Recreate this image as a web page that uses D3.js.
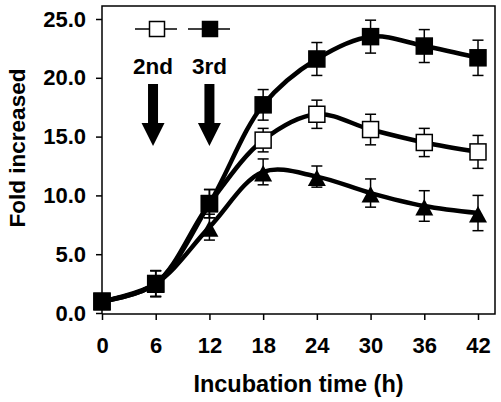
<!DOCTYPE html>
<html>
<head>
<meta charset="utf-8">
<script src="https://cdn.jsdelivr.net/npm/d3@7"></script>
<style>
  html, body { margin: 0; padding: 0; background: #fff; }
  svg { display: block; font-family: "Liberation Sans", Arial, Helvetica, sans-serif; font-weight: bold; }
</style>
</head>
<body>
<svg id="chart" width="501" height="402"></svg>
<script>
// ---- data ----
const times = [0, 6, 12, 18, 24, 30, 36, 42];
const xTickLabels = ["0", "6", "12", "18", "24", "30", "36", "42"];
const yTickValues = [0, 5, 10, 15, 20, 25];
const openValues   = [1.0, 2.5, 9.3, 14.7, 16.9, 15.6, 14.5, 13.7];
const openErrors   = [0.3, 1.1, 1.2, 1.0, 1.2, 1.3, 1.2, 1.4];
const filledValues = [1.0, 2.5, 9.3, 17.7, 21.6, 23.5, 22.7, 21.7];
const filledErrors = [0.3, 1.1, 1.2, 1.3, 1.4, 1.4, 1.4, 1.5];
const triValues    = [1.0, 2.5, 7.3, 12.0, 11.6, 10.2, 9.1, 8.5];
const triErrors    = [0.3, 1.1, 1.1, 1.1, 0.9, 1.2, 1.3, 1.5];
const arrowLabels = ["2nd", "3rd"];
const arrowTimes = [5.7, 12];
const xTitle = "Incubation time (h)";
const yTitle = "Fold increased";

// ---- layout ----
const svg = d3.select("#chart");
const x = d3.scaleLinear().domain([0, 42]).range([102, 478]);
const y = d3.scaleLinear().domain([0, 25]).range([313, 19]);
const frameLeft = 102, frameRight = 495, frameTop = 6, frameBottom = 314;

// frame
svg.append("path")
  .attr("d", `M${frameLeft},${frameBottom}V${frameTop}H${frameRight}V${frameBottom}H${frameLeft}`)
  .attr("fill", "none").attr("stroke", "#000").attr("stroke-width", 1.5);

// y axis
const yAxis = svg.append("g").attr("transform", `translate(${frameLeft},0)`)
  .call(d3.axisLeft(y).tickValues(yTickValues).tickFormat(d3.format(".1f")).tickSize(6).tickPadding(10));
yAxis.select(".domain").remove();
yAxis.selectAll("line").attr("stroke-width", 1.5);
yAxis.selectAll("text").attr("font-size", 22).attr("font-family", null).attr("font-weight", "bold").attr("fill", "#000");

// x axis
const xAxis = svg.append("g").attr("transform", `translate(0,${frameBottom})`)
  .call(d3.axisBottom(x).tickValues(times).tickFormat((d, i) => xTickLabels[i]).tickSize(6).tickPadding(17));
xAxis.select(".domain").remove();
xAxis.selectAll("line").attr("stroke-width", 1.5);
xAxis.selectAll("text").attr("font-size", 22).attr("font-family", null).attr("font-weight", "bold").attr("fill", "#000");

// titles
svg.append("text").attr("x", (frameLeft + frameRight) / 2).attr("y", 392)
  .attr("text-anchor", "middle").attr("font-size", 23.5).text(xTitle);
svg.append("text").attr("transform", `translate(25,148) rotate(-90)`)
  .attr("text-anchor", "middle").attr("font-size", 22.5).text(yTitle);

// series
const series = [
  { values: triValues, errors: triErrors, type: "tri" },
  { values: openValues, errors: openErrors, type: "open" },
  { values: filledValues, errors: filledErrors, type: "filled" }
];
const line = d3.line().x((d, i) => x(times[i])).y(d => y(d)).curve(d3.curveCatmullRom.alpha(0.5));

// error bars
series.forEach(s => {
  const g = svg.append("g").attr("stroke", "#000").attr("stroke-width", 1.5);
  s.values.forEach((v, i) => {
    const cx = x(times[i]), top = y(v + s.errors[i]), bot = y(v - s.errors[i]);
    g.append("line").attr("x1", cx).attr("x2", cx).attr("y1", top).attr("y2", bot);
    g.append("line").attr("x1", cx - 5.5).attr("x2", cx + 5.5).attr("y1", top).attr("y2", top);
    g.append("line").attr("x1", cx - 5.5).attr("x2", cx + 5.5).attr("y1", bot).attr("y2", bot);
  });
});
// lines
series.forEach(s => {
  svg.append("path").attr("d", line(s.values)).attr("fill", "none")
    .attr("stroke", "#000").attr("stroke-width", 4.5).attr("stroke-linejoin", "round");
});
// markers
const triPath = "M0,-7L9,9.5L-9,9.5Z";
series.forEach(s => {
  const g = svg.append("g");
  s.values.forEach((v, i) => {
    const cx = x(times[i]), cy = y(v);
    if (s.type === "tri") {
      g.append("path").attr("d", triPath).attr("transform", `translate(${cx},${cy})`).attr("fill", "#000");
    } else {
      g.append("rect").attr("x", cx - 8).attr("y", cy - 8).attr("width", 16).attr("height", 16)
        .attr("fill", s.type === "open" ? "#fff" : "#000").attr("stroke", "#000").attr("stroke-width", 1.5);
    }
  });
});

// legend
const legendItems = [{ fill: "#fff", cx: 157 }, { fill: "#000", cx: 210 }];
legendItems.forEach(it => {
  svg.append("line").attr("x1", it.cx - 22).attr("x2", it.cx + 20).attr("y1", 29).attr("y2", 29)
    .attr("stroke", "#000").attr("stroke-width", 1.5);
  svg.append("rect").attr("x", it.cx - 7.5).attr("y", 21.5).attr("width", 15).attr("height", 15)
    .attr("fill", it.fill).attr("stroke", "#000").attr("stroke-width", 1.5);
});

// arrows + labels
arrowTimes.forEach((t, i) => {
  const cx = x(t);
  svg.append("text").attr("x", cx).attr("y", 74).attr("text-anchor", "middle")
    .attr("font-size", 22.5).text(arrowLabels[i]);
  svg.append("path")
    .attr("d", `M${cx - 5},84V123H${cx - 11.5}L${cx},146L${cx + 11.5},123H${cx + 5}V84Z`)
    .attr("fill", "#000");
});
</script>
</body>
</html>
